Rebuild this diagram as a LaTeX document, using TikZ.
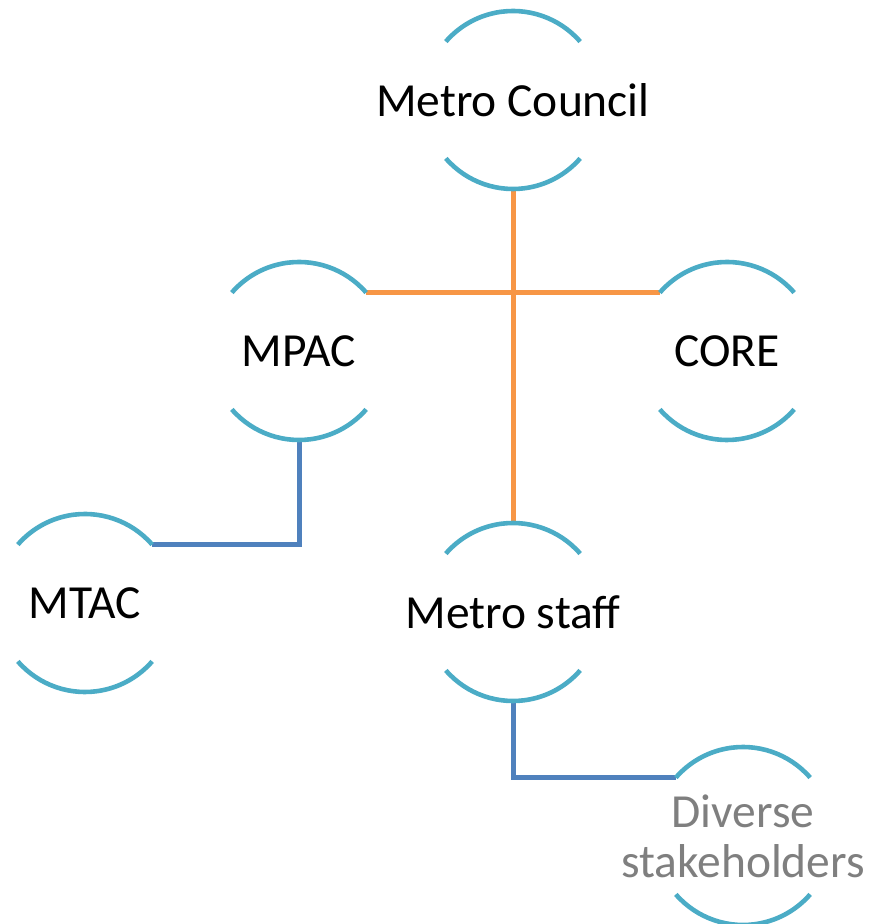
\documentclass[tikz,border=0pt]{standalone}
\usepackage{fontspec}
\setmainfont{Carlito}
\definecolor{ringcol}{HTML}{4BACC6}
\definecolor{linkorange}{HTML}{F79646}
\definecolor{linkblue}{HTML}{4F81BD}
\definecolor{softgray}{HTML}{7F7F7F}
\newcommand\ringarcs[1]{%
  \draw[ring] ([shift={(41:89)}]#1.center) arc[start angle=41,end angle=139,radius=89];
  \draw[ring] ([shift={(221:89)}]#1.center) arc[start angle=221,end angle=319,radius=89];}
\begin{document}
\begin{tikzpicture}[x=1pt,y=1pt,
  ring/.style={draw=ringcol,line width=4.6pt},
  lbl/.style={inner sep=0pt,outer sep=0pt,font=\fontsize{47.5}{50}\selectfont,align=center},
  orangelink/.style={draw=linkorange,line width=5pt},
  bluelink/.style={draw=linkblue,line width=5pt}]
\useasboundingbox (0,0) rectangle (875,924);
% members
\node[lbl] (mc)   at (513,824) {Metro Council};
\node[lbl] (mpac) at (299,573) {MPAC};
\node[lbl] (core) at (727,573) {CORE};
\node[lbl] (mtac) at (85,321)  {MTAC};
\node[lbl] (ms)   at (513,312) {Metro staff};
\node[lbl,text=softgray] (ds) at (743,88) {Diverse\\stakeholders};
% connectors
\draw[orangelink] ([shift={(41:89)}]mpac.center) -- ([shift={(139:89)}]core.center);
\draw[orangelink] ([yshift=-89]mc.center) -- ([yshift=89]ms.center);
\draw[bluelink] ([yshift=-89]mpac.center) |- ([shift={(41:89)}]mtac.center);
\draw[bluelink] ([yshift=-89]ms.center) |- ([shift={(139:89)}]ds.center);
% rings
\ringarcs{mc}
\ringarcs{mpac}
\ringarcs{core}
\ringarcs{mtac}
\ringarcs{ms}
\ringarcs{ds}
\end{tikzpicture}
\end{document}
